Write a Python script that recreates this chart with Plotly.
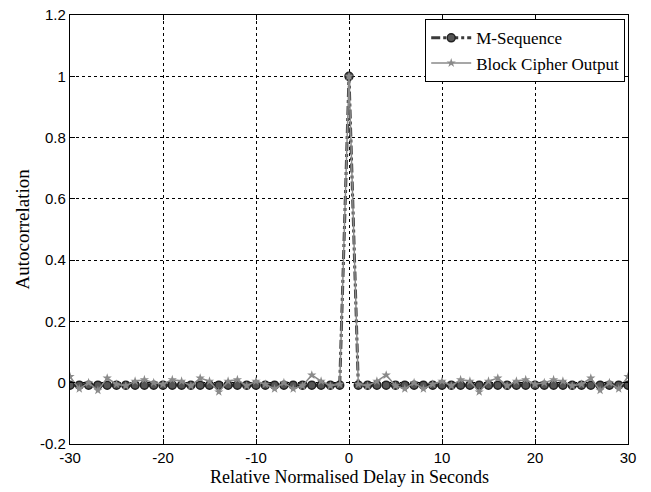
import plotly.graph_objects as go

delays = list(range(-30, 31))
# positive-lag block cipher autocorrelation (lags 1..30); mirrored for negative lags
bc_pos = [-0.005, -0.01, 0.005, 0.025, -0.01, -0.02, 0.0, -0.02, -0.005, 0.005,
          -0.01, 0.01, 0.005, -0.03, 0.005, 0.015, -0.01, 0.005, 0.01, -0.005,
          0.0, 0.01, 0.005, -0.01, -0.005, 0.015, -0.025, 0.0, -0.02, 0.02]
block_cipher = bc_pos[::-1] + [1.0] + bc_pos
m_off = -0.008
m_sequence = [1.0 if d == 0 else m_off for d in delays]

x_ticks = [-30, -20, -10, 0, 10, 20, 30]
x_labels = ["-30", "-20", "-10", "0", "10", "20", "30"]
y_ticks = [-0.2, 0, 0.2, 0.4, 0.6, 0.8, 1, 1.2]
y_labels = ["-0.2", "0", "0.2", "0.4", "0.6", "0.8", "1", "1.2"]

fig = go.Figure()
fig.add_trace(go.Scatter(
    x=delays, y=m_sequence, name="M-Sequence", mode="lines+markers",
    line=dict(color="#3a3a3a", width=3, dash="dashdot"),
    marker=dict(symbol="circle", size=8, color="#555555",
                line=dict(color="#222222", width=1.5)),
))
fig.add_trace(go.Scatter(
    x=delays, y=block_cipher, name="Block Cipher Output", mode="lines+markers",
    line=dict(color="#8a8a8a", width=1.5),
    marker=dict(symbol="star", size=7, color="#8a8a8a"),
))

axis_common = dict(
    showline=True, linecolor="black", linewidth=1.2, mirror="ticks",
    ticks="inside", ticklen=5, tickcolor="black",
    showgrid=True, gridcolor="black", griddash="dot", gridwidth=1,
    zeroline=False, automargin=False,
    tickfont=dict(family="Liberation Sans, Arial", size=15, color="black"),
)
fig.update_xaxes(range=[-30, 30], tickvals=x_ticks, ticktext=x_labels, **axis_common)
fig.update_yaxes(range=[-0.2, 1.2], tickvals=y_ticks, ticktext=y_labels, **axis_common)

fig.add_annotation(text="Relative Normalised Delay in Seconds", xref="paper", yref="paper",
                   x=0.5, y=-0.077, xanchor="center", yanchor="middle", showarrow=False,
                   font=dict(family="Liberation Serif, Times New Roman", size=18, color="black"))
fig.add_annotation(text="Autocorrelation", xref="paper", yref="paper",
                   x=-0.086, y=0.5, xanchor="center", yanchor="middle", textangle=-90,
                   showarrow=False,
                   font=dict(family="Liberation Serif, Times New Roman", size=19, color="black"))

fig.update_layout(
    width=651, height=492,
    margin=dict(l=70, r=23, t=15, b=48),
    paper_bgcolor="white", plot_bgcolor="white",
    showlegend=True,
    legend=dict(x=0.995, y=0.99, xanchor="right", yanchor="top",
                bgcolor="white", bordercolor="black", borderwidth=1,
                font=dict(family="Liberation Serif, Times New Roman", size=17, color="black"),
                tracegroupgap=0, itemwidth=40),
)
fig.write_html("out.html")
